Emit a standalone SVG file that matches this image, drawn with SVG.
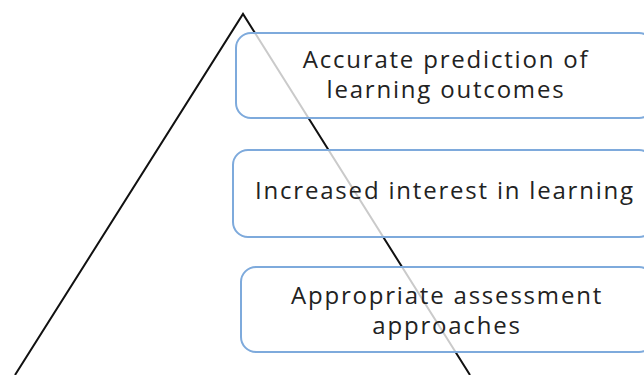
<svg xmlns="http://www.w3.org/2000/svg" width="644" height="375" viewBox="0 0 644 375">
<style>
.box{fill:#ffffff;fill-opacity:0.78;stroke:#7eaadc;stroke-width:2}
.t{font-family:"Open Sans","Noto Sans","DejaVu Sans",sans-serif;font-size:24px;letter-spacing:1.8px;fill:#222;text-anchor:middle}
.edge{stroke:#111;stroke-width:2;fill:none}
</style>
<rect width="644" height="375" fill="#ffffff"/>
<g id="connectors">
<polyline class="edge" points="15,375 243,14 470,375"/>
</g>
<g id="node1">
<rect class="box" x="236" y="33" width="418" height="85" rx="15"/>
<text class="t" x="446" y="68">Accurate prediction of</text>
<text class="t" x="446" y="98">learning outcomes</text>
</g>
<g id="node2">
<rect class="box" x="233" y="150" width="421" height="87" rx="15"/>
<text class="t" x="445" y="199">Increased interest in learning</text>
</g>
<g id="node3">
<rect class="box" x="241" y="267" width="413" height="85" rx="15"/>
<text class="t" x="447" y="304">Appropriate assessment</text>
<text class="t" x="447" y="334">approaches</text>
</g>
</svg>
